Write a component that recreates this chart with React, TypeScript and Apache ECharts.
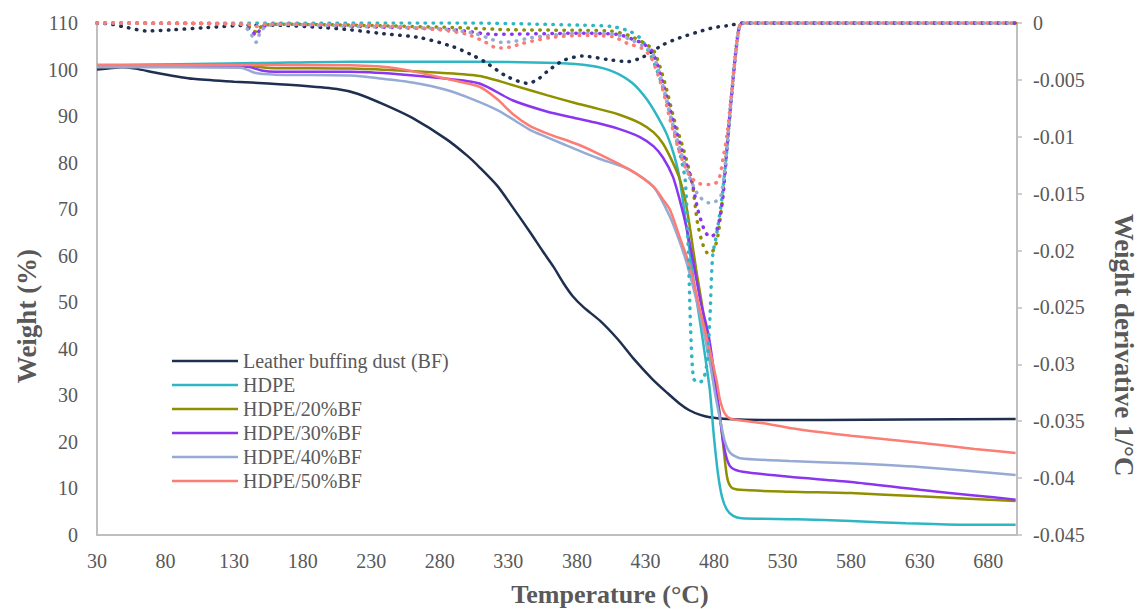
import React, { useEffect, useRef } from "react";
import * as echarts from "echarts";

const tempTicks = [30, 80, 130, 180, 230, 280, 330, 380, 430, 480, 530, 580, 630, 680];
const seriesNames = [
  "Leather buffing dust (BF)",
  "HDPE",
  "HDPE/20%BF",
  "HDPE/30%BF",
  "HDPE/40%BF",
  "HDPE/50%BF",
];
const seriesColors = ["#1f2f4f", "#2fb6c4", "#8f8f00", "#8b35f0", "#95aad4", "#fb7d74"];

// Weight (%) vs temperature (°C)
const bfTG: [number, number][] = [[30,100],[38,100.2],[48,100.5],[58,100.2],[75,99.2],[100,98],[130,97.4],[155,97],[180,96.5],[205,95.8],[220,94.8],[240,92.4],[260,89.6],[285,85],[300,81.5],[309,79],[322,75],[333,70.5],[346,65],[355,61],[363,57.6],[370,54.2],[377,51.3],[385,48.9],[397,46],[410,42],[421,38],[435,33.5],[446,30.5],[455,28.2],[462,26.8],[470,25.8],[477,25.3],[490,24.9],[520,24.7],[560,24.7],[620,24.8],[700,24.9]];
const hdpeTG: [number, number][] = [[30,100.8],[100,101.2],[150,101.4],[215,101.7],[300,101.7],[366,101.4],[390,100.8],[406,99.6],[420,97.2],[431,93.6],[440,89.3],[446,85.8],[451,81.5],[455,76.5],[460,66],[465,55],[470,45.5],[474,37.5],[477,31],[480,21],[483,13],[486,8],[489.5,5.4],[494,4.1],[500,3.6],[540,3.4],[580,3],[620,2.5],[660,2.2],[700,2.2]];
const bf20TG: [number, number][] = [[30,101],[100,101],[140,100.9],[150,100.5],[160,100.3],[215,100.2],[250,99.8],[280,99.3],[309,98.6],[335,96.5],[358,94.5],[380,92.7],[395,91.6],[410,90.4],[426,88.5],[436,86.5],[443,84],[450,80],[455,76.5],[459,72],[463,65],[467,57],[471,50],[475,42],[480,33],[484,26.5],[486.5,20],[489.5,12.5],[492.5,10.3],[499,9.7],[535,9.3],[580,9],[630,8.3],[700,7.3]];
const bf30TG: [number, number][] = [[30,100.8],[140,100.6],[150,99.8],[160,99.5],[215,99.5],[250,99],[280,98.2],[309,97],[333,93.4],[358,91],[380,89.5],[395,88.5],[410,87.3],[426,85.5],[436,83.5],[443,81],[450,77],[455,72],[460,66],[465,58.5],[470,50.5],[476,43],[480,35],[484,26],[487,19.5],[490,15.8],[493,14.4],[501,13.6],[535,12.5],[580,11.4],[630,9.7],[670,8.5],[700,7.6]];
const bf40TG: [number, number][] = [[30,100.5],[135,100.4],[145,99.3],[160,98.9],[215,98.7],[236,98.1],[260,97.2],[285,95.6],[305,93.5],[322,91.3],[335,89],[346,87],[358,85.5],[370,84],[395,81],[419,78.4],[436,74.8],[448,68.3],[455,63],[460,58.5],[465,53],[470,47],[477,37],[481,30],[484.5,24.7],[488,20],[492,17.6],[499,16.5],[535,15.9],[580,15.4],[630,14.6],[700,12.9]];
const bf50TG: [number, number][] = [[30,101],[145,101],[215,100.9],[250,100.2],[285,98],[309,96.3],[322,93.6],[333,90.5],[345,88],[358,86.3],[380,84],[395,82],[419,78.4],[436,74.8],[443,72],[448,69.8],[455,64],[462.5,57.6],[470,48],[477,39.7],[482,33],[484.4,29],[488,26],[492,25],[500,24.6],[516,24],[535,23],[560,22],[580,21.3],[630,19.8],[670,18.5],[700,17.6]];

// Weight derivative (1/°C) vs temperature (°C)
const bfDTG: [number, number][] = [[30,0],[40,-0.0001],[52,-0.0004],[66,-0.0007],[85,-0.0006],[110,-0.0004],[140,-0.0002],[160,-0.0002],[195,-0.0004],[215,-0.0006],[236,-0.0009],[266,-0.0013],[290,-0.0021],[305,-0.0029],[314,-0.0035],[329,-0.0047],[344,-0.0053],[351,-0.005],[358,-0.0043],[370,-0.0033],[384,-0.0029],[402,-0.0032],[417,-0.0034],[428,-0.003],[443,-0.0019],[455,-0.0013],[468,-0.0008],[480,-0.0004],[492,-0.0002],[500,0],[700,0]];
const hdpeDTG: [number, number][] = [[30,0],[300,0],[350,-0.0001],[385,-0.0002],[405,-0.0003],[418,-0.0007],[426,-0.0013],[432,-0.0024],[438,-0.004],[445,-0.0066],[450,-0.009],[455,-0.0114],[459,-0.0138],[461,-0.019],[463,-0.027],[465,-0.0312],[468,-0.0316],[472,-0.0314],[475,-0.0298],[477,-0.026],[479,-0.0205],[482,-0.0185],[486,-0.0152],[489.5,-0.011],[492.5,-0.0068],[496,-0.0024],[498.5,-0.0003],[501,0],[700,0]];
const bf20DTG: [number, number][] = [[30,0],[135,-0.0001],[142,-0.0004],[146,-0.0008],[150,-0.0003],[160,-0.0001],[220,-0.0002],[290,-0.0004],[334,-0.0006],[404,-0.0007],[418,-0.0011],[428,-0.0017],[436,-0.0024],[444,-0.0052],[451,-0.0085],[458,-0.0112],[464,-0.014],[468,-0.0176],[472,-0.0195],[476,-0.0203],[480,-0.0199],[483,-0.0186],[486,-0.0156],[489.5,-0.011],[492.5,-0.0068],[496,-0.0024],[498.5,-0.0003],[501,0],[700,0]];
const bf30DTG: [number, number][] = [[30,0],[135,-0.0001],[142,-0.0006],[146,-0.0011],[150,-0.0004],[160,-0.0001],[220,-0.0003],[290,-0.0006],[320,-0.001],[380,-0.0009],[410,-0.001],[420,-0.0014],[428,-0.0018],[435,-0.0025],[443,-0.0054],[450,-0.0085],[457,-0.0113],[464,-0.014],[468,-0.0163],[473,-0.0182],[477,-0.0188],[481,-0.0185],[484,-0.0173],[486.5,-0.0153],[489.5,-0.011],[492.5,-0.0068],[496,-0.0024],[498.5,-0.0003],[501,0],[700,0]];
const bf40DTG: [number, number][] = [[30,0],[135,-0.0001],[142,-0.0009],[146,-0.0017],[150,-0.0006],[160,-0.0001],[220,-0.0003],[280,-0.0005],[305,-0.0009],[315,-0.0013],[325,-0.0017],[335,-0.0016],[346,-0.0013],[380,-0.0009],[408,-0.001],[420,-0.0015],[428,-0.002],[435,-0.0026],[443,-0.0056],[449,-0.0085],[456,-0.0114],[463,-0.0138],[469,-0.0152],[476,-0.0158],[481,-0.0157],[485,-0.0152],[487.5,-0.0132],[489.5,-0.011],[492.5,-0.0068],[496,-0.0024],[498.5,-0.0003],[501,0],[700,0]];
const bf50DTG: [number, number][] = [[30,0],[140,-0.0001],[146,-0.0003],[152,-0.0001],[230,-0.0002],[280,-0.0006],[300,-0.001],[312,-0.0016],[322,-0.0022],[332,-0.0021],[340,-0.0018],[360,-0.0013],[380,-0.0011],[406,-0.0012],[417,-0.0018],[427,-0.0022],[434,-0.003],[442,-0.0056],[448,-0.0085],[455,-0.0114],[462,-0.0134],[469,-0.0141],[477,-0.0142],[483,-0.0139],[486.5,-0.012],[489.5,-0.0098],[492.5,-0.0065],[496,-0.0024],[498.5,-0.0003],[501,0],[700,0]];

const tgData = [bfTG, hdpeTG, bf20TG, bf30TG, bf40TG, bf50TG];
const dtgData = [bfDTG, hdpeDTG, bf20DTG, bf30DTG, bf40DTG, bf50DTG];

const FONT = "Liberation Serif";
const GREY = "#595959";
const AXIS_GREY = "#bfbfbf";

export default function App() {
  const ref = useRef<HTMLDivElement>(null);
  useEffect(() => {
    document.body.style.margin = "0";
    const chart = echarts.init(ref.current!, null, { renderer: "svg" });
    const tgSeries = tgData.map((d, i) => ({
      name: seriesNames[i],
      type: "line",
      data: d,
      yAxisIndex: 0,
      showSymbol: false,
      smooth: 0.25,
      color: seriesColors[i],
      lineStyle: { width: 2.5, color: seriesColors[i] },
      z: 2,
    }));
    const dtgSeries = dtgData.map((d, i) => ({
      name: seriesNames[i] + " DTG",
      type: "line",
      data: d,
      yAxisIndex: 1,
      showSymbol: false,
      smooth: 0.25,
      color: seriesColors[i],
      lineStyle: { width: 3.5, color: seriesColors[i], type: [0.5, 7.5], cap: "round" },
      z: 3,
    }));
    chart.setOption({
      animation: false,
      backgroundColor: "#ffffff",
      textStyle: { fontFamily: FONT },
      grid: { left: 97, right: 121, top: 23, bottom: 74, containLabel: false },
      legend: {
        data: seriesNames,
        orient: "vertical",
        left: 167,
        top: 344,
        icon: "rect",
        itemWidth: 66,
        itemHeight: 2.5,
        itemGap: 0,
        textStyle: { fontFamily: FONT, fontSize: 20, color: GREY, lineHeight: 24 },
      },
      xAxis: {
        type: "value",
        min: 30,
        max: 701,
        splitLine: { show: false },
        axisLine: { show: true, lineStyle: { color: AXIS_GREY, width: 2 } },
        axisTick: { show: false },
        axisLabel: {
          customValues: tempTicks,
          fontFamily: FONT,
          fontSize: 20,
          color: GREY,
          margin: 16,
          showMinLabel: true,
          showMaxLabel: true,
        },
      },
      yAxis: [
        {
          type: "value",
          min: 0,
          max: 110,
          interval: 10,
          position: "left",
          splitLine: { show: false },
          axisLine: { show: true, lineStyle: { color: AXIS_GREY, width: 2 } },
          axisTick: { show: false },
          axisLabel: { fontFamily: FONT, fontSize: 20, color: GREY, margin: 19 },
        },
        {
          type: "value",
          min: -0.045,
          max: 0,
          interval: 0.005,
          position: "right",
          splitLine: { show: false },
          axisLine: { show: true, lineStyle: { color: AXIS_GREY, width: 2 } },
          axisTick: { show: true, length: 5, lineStyle: { color: AXIS_GREY, width: 1.5 } },
          axisLabel: {
            fontFamily: FONT,
            fontSize: 20,
            color: GREY,
            margin: 16,
            formatter: (v: number) => String(+v.toFixed(3)),
          },
        },
      ],
      graphic: [
        {
          type: "text",
          x: 27,
          y: 316,
          rotation: Math.PI / 2,
          style: { text: "Weight (%)", fontFamily: FONT, fontWeight: "bold", fontSize: 27, fill: GREY, align: "center", verticalAlign: "middle" },
        },
        {
          type: "text",
          x: 1124,
          y: 345,
          rotation: -Math.PI / 2,
          style: { text: "Weight derivative 1/°C", fontFamily: FONT, fontWeight: "bold", fontSize: 27, fill: GREY, align: "center", verticalAlign: "middle" },
        },
        {
          type: "text",
          x: 610,
          y: 594,
          style: { text: "Temperature (°C)", fontFamily: FONT, fontWeight: "bold", fontSize: 26, fill: GREY, align: "center", verticalAlign: "middle" },
        },
      ],
      series: [...tgSeries, ...dtgSeries],
    });
    return () => chart.dispose();
  }, []);
  return <div ref={ref} style={{ width: 1138, height: 609 }} />;
}
